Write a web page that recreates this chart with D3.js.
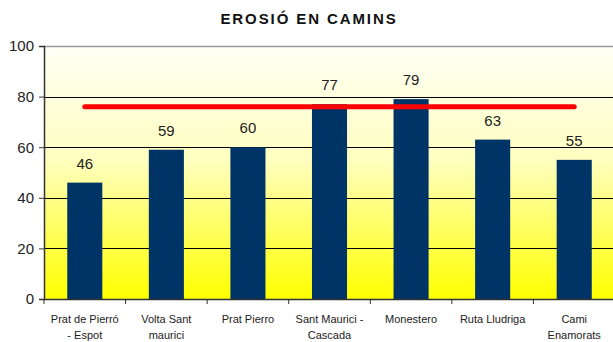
<!DOCTYPE html>
<html>
<head>
<meta charset="utf-8">
<script src="https://cdn.jsdelivr.net/npm/d3@7"></script>
<style>
  html, body { margin: 0; padding: 0; background: #fff; }
  svg { display: block; font-family: Arial, "Liberation Sans", sans-serif; }
</style>
</head>
<body>
<svg id="chart" width="613" height="342"></svg>
<script>
// Erosion index per trail
const categories = [
  ["Prat de Pierró", "- Espot"],
  ["Volta Sant", "maurici"],
  ["Prat Pierro"],
  ["Sant Maurici -", "Cascada"],
  ["Monestero"],
  ["Ruta Lludriga"],
  ["Cami", "Enamorats"]
];
const values = [46, 59, 60, 77, 79, 63, 55];
const threshold = 76;
const yTicks = [0, 20, 40, 60, 80, 100];
const title = "EROSIÓ EN CAMINS";

const svg = d3.select("#chart");
const plotLeft = 44, plotRight = 615, plotTop = 46, plotBottom = 299;

const x = d3.scaleBand()
  .domain(d3.range(categories.length))
  .range([plotLeft, plotRight])
  .paddingInner(0.57)
  .paddingOuter(0.285);
const y = d3.scaleLinear().domain([0, 100]).range([plotBottom, plotTop]);

// background gradient of the plot area
const defs = svg.append("defs");
const grad = defs.append("linearGradient")
  .attr("id", "bg").attr("x1", 0).attr("y1", 0).attr("x2", 0).attr("y2", 1);
grad.append("stop").attr("offset", "0%").attr("stop-color", "#fffff6");
grad.append("stop").attr("offset", "45%").attr("stop-color", "#ffffc0");
grad.append("stop").attr("offset", "100%").attr("stop-color", "#ffff00");

svg.append("rect")
  .attr("x", plotLeft).attr("y", plotTop)
  .attr("width", plotRight - plotLeft).attr("height", plotBottom - plotTop)
  .attr("fill", "url(#bg)");

// title
svg.append("text")
  .attr("x", 309).attr("y", 24)
  .attr("text-anchor", "middle")
  .attr("font-size", 15).attr("font-weight", "bold")
  .attr("letter-spacing", 1.9)
  .attr("fill", "#111")
  .text(title);

// horizontal gridlines
svg.append("g")
  .selectAll("line")
  .data(yTicks.filter(t => t > 0 && t < 100))
  .join("line")
  .attr("x1", plotLeft).attr("x2", plotRight)
  .attr("y1", d => Math.round(y(d)) + 0.5).attr("y2", d => Math.round(y(d)) + 0.5)
  .attr("stroke", "#000").attr("stroke-width", 1);

// top border of plot area
svg.append("line")
  .attr("x1", plotLeft).attr("x2", plotRight)
  .attr("y1", plotTop + 0.5).attr("y2", plotTop + 0.5)
  .attr("stroke", "#999").attr("stroke-width", 1.5);

// bars
svg.append("g")
  .selectAll("rect")
  .data(values)
  .join("rect")
  .attr("x", (d, i) => x(i))
  .attr("y", d => y(d))
  .attr("width", x.bandwidth())
  .attr("height", d => plotBottom - y(d))
  .attr("fill", "#003366");

// value labels
svg.append("g")
  .selectAll("text")
  .data(values)
  .join("text")
  .attr("x", (d, i) => x(i) + x.bandwidth() / 2)
  .attr("y", d => y(d) - 14)
  .attr("text-anchor", "middle")
  .attr("font-size", 15)
  .attr("fill", "#222")
  .text(d => d);

// threshold line
const cx = i => x(i) + x.bandwidth() / 2;
svg.append("line")
  .attr("x1", cx(0)).attr("x2", cx(categories.length - 1))
  .attr("y1", y(threshold)).attr("y2", y(threshold))
  .attr("stroke", "#ff0000").attr("stroke-width", 5)
  .attr("stroke-linecap", "round");

// y axis
const yAxis = svg.append("g")
  .attr("transform", `translate(${plotLeft},0)`)
  .call(d3.axisLeft(y).tickValues(yTicks).tickSize(5).tickPadding(5));
yAxis.select(".domain").attr("stroke", "#333").attr("stroke-width", 1.5);
yAxis.selectAll(".tick line").attr("stroke", "#333");
yAxis.selectAll(".tick text")
  .attr("font-size", 15).attr("fill", "#222")
  .attr("font-family", "Arial, 'Liberation Sans', sans-serif");

// x axis with ticks at category boundaries
const xAxisG = svg.append("g");
xAxisG.append("line")
  .attr("x1", plotLeft).attr("x2", plotRight)
  .attr("y1", plotBottom + 0.5).attr("y2", plotBottom + 0.5)
  .attr("stroke", "#333").attr("stroke-width", 1.5);
xAxisG.selectAll("line.tk")
  .data(d3.range(categories.length + 1))
  .join("line").attr("class", "tk")
  .attr("x1", i => plotLeft + i * x.step())
  .attr("x2", i => plotLeft + i * x.step())
  .attr("y1", plotBottom).attr("y2", plotBottom + 5)
  .attr("stroke", "#333");

// category labels
const lbl = svg.append("g")
  .selectAll("text")
  .data(categories)
  .join("text")
  .attr("x", (d, i) => cx(i))
  .attr("y", 323)
  .attr("text-anchor", "middle")
  .attr("font-size", 11)
  .attr("fill", "#222");
lbl.selectAll("tspan")
  .data(d => d)
  .join("tspan")
  .attr("x", function () { return d3.select(this.parentNode).attr("x"); })
  .attr("dy", (d, j) => j === 0 ? 0 : 16)
  .text(d => d);
</script>
</body>
</html>
